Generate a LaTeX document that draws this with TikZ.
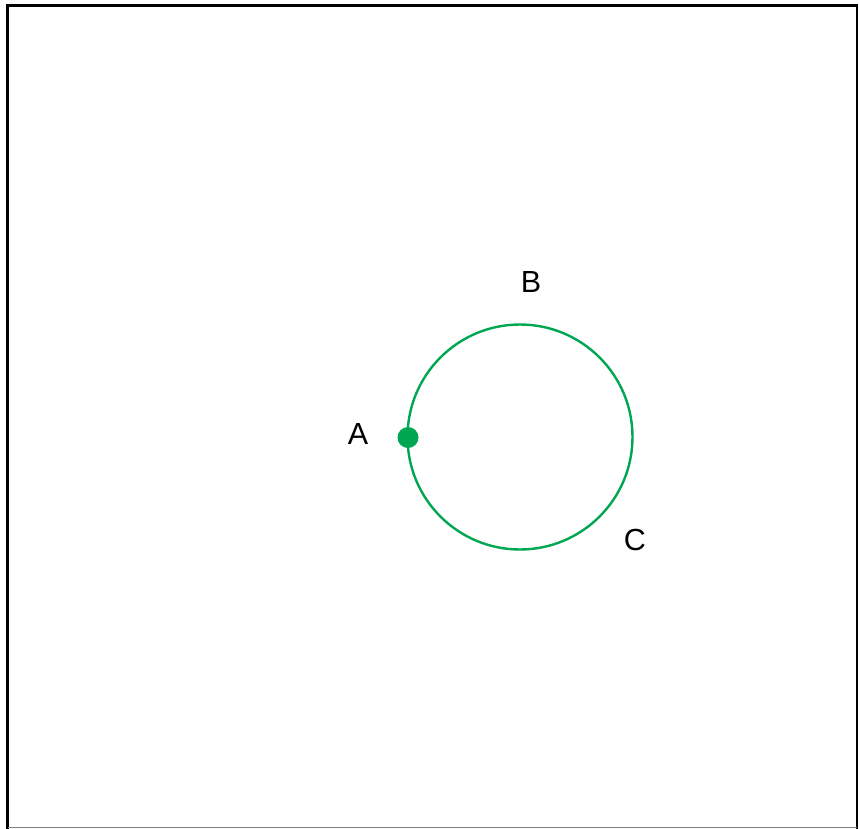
\documentclass[tikz,border=0pt]{standalone}
\usepackage{fontspec}
\setmainfont{Liberation Sans}
\usetikzlibrary{calc}
\definecolor{ringgreen}{HTML}{00A651}

\begin{document}
\begin{tikzpicture}[x=1pt,y=-1pt,
        lbl/.style={font=\fontsize{30.5}{36}\selectfont},
        dot/.style={circle,fill=ringgreen,inner sep=0pt,minimum size=21pt}]
        \useasboundingbox (0,0) rectangle (860,828);
        \draw[line width=2.6pt] (7.5,829) -- (7.5,5.5) -- (857,5.5) -- (857,829);
        \draw[line width=1pt,gray] (8,827.2) -- (857,827.2);
        \draw[ringgreen,line width=2.4pt] (520,437) circle (112.5);
        \node[dot] (a) at (408,437.5) {};
        \node[lbl] (la) at (358,434) {A};
        \node[lbl] (lb) at (531,282.5) {B};
        \node[lbl] (lc) at (635,539.5) {C};
      \end{tikzpicture}
\end{document}
